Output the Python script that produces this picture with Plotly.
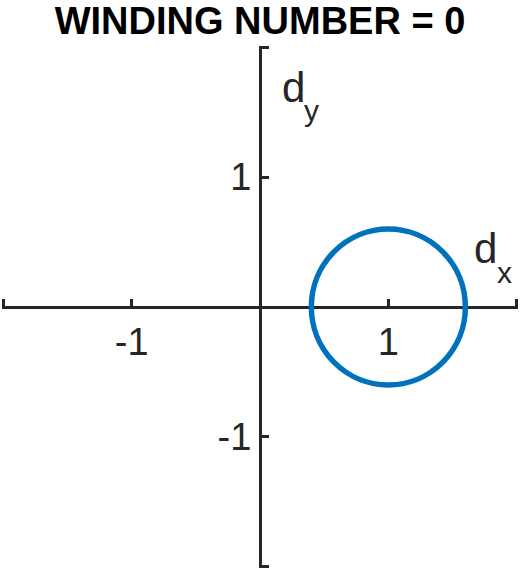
import plotly.graph_objects as go

# Data
title_text = "WINDING NUMBER = 0"
tick_vals = [-2, -1, 0, 1, 2]
x_tick_text = ["", "-1", "", "1", ""]
y_tick_text = ["", "-1", "", "1", ""]
circle_center = (1.0, 0.0)
circle_radius = 0.6
x_label_main, x_label_sub = "d", "x"
y_label_main, y_label_sub = "d", "y"

AX = "#262626"
FONT = "Liberation Sans, Arial, Helvetica, sans-serif"

fig = go.Figure()
# invisible trace to establish axes
fig.add_trace(go.Scatter(x=[-2, 2], y=[-2, 2], mode="markers",
                         marker=dict(opacity=0), hoverinfo="skip", showlegend=False))

cx, cy = circle_center
fig.add_shape(type="circle", xref="x", yref="y",
              x0=cx - circle_radius, x1=cx + circle_radius,
              y0=cy - circle_radius, y1=cy + circle_radius,
              line=dict(color="#0072BD", width=5.5))

axis_common = dict(
    range=[-2.01, 2.01], showgrid=False, zeroline=False,
    showline=True, linecolor=AX, linewidth=3,
    ticks="inside", ticklen=7, tickwidth=3, tickcolor=AX,
    tickvals=tick_vals, anchor="free", position=0.5,
    tickfont=dict(family=FONT, size=38, color=AX),
    automargin=False, fixedrange=True,
)
fig.update_xaxes(**axis_common, ticktext=x_tick_text, side="bottom")
fig.update_yaxes(**axis_common, ticktext=y_tick_text, side="left")

def label(x, y, text, size):
    fig.add_annotation(x=x, y=y, xref="x", yref="y", text=text, showarrow=False,
                       xanchor="left", yanchor="middle",
                       font=dict(family=FONT, size=size, color=AX))

label(1.650, 0.454, x_label_main, 42)
label(1.829, 0.265, x_label_sub, 30)
label(0.156, 1.69, y_label_main, 42)
label(0.327, 1.515, y_label_sub, 30)

fig.update_layout(
    width=530, height=572,
    margin=dict(l=2, r=12, t=46, b=4),
    paper_bgcolor="white", plot_bgcolor="white",
    title=dict(text="<b>" + title_text + "</b>", x=260 / 530, xanchor="center",
               y=1 - 21 / 572, yanchor="middle", yref="container",
               font=dict(family=FONT, size=38, color="black")),
    showlegend=False,
)

fig.write_html("out.html", config={"displayModeBar": False},
               post_script="document.body.style.margin='0';")
